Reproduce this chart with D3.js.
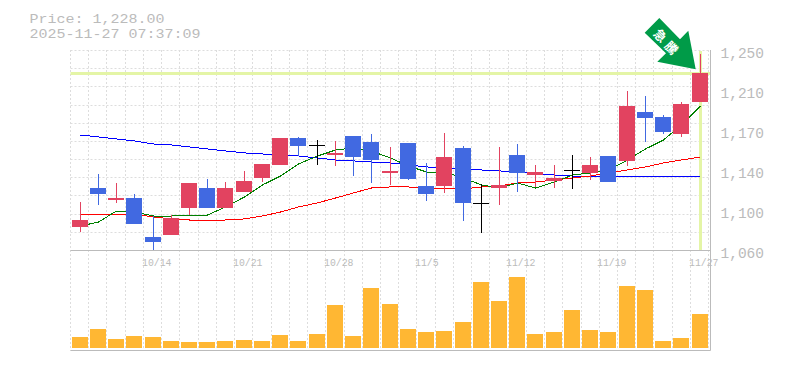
<!DOCTYPE html>
<html>
<head>
<meta charset="utf-8">
<script src="https://cdn.jsdelivr.net/npm/d3@7"></script>
<style>
    body {margin:0; background:#fff;}
    svg {display:block;}
    text {font-family:'Liberation Mono', monospace; fill:#bbb;}
</style>
</head>
<body>
<div id="chart"></div>
<script>
// chart data
const dates = ['10/7','10/8','10/9','10/10','10/14','10/15','10/16','10/17','10/20','10/21','10/22','10/23','10/24','10/27','10/28','10/29','10/30','10/31','11/4','11/5','11/6','11/7','11/10','11/11','11/12','11/13','11/14','11/17','11/18','11/19','11/20','11/21','11/25','11/26','11/27'];
const dateLabels = ['10/14','10/21','10/28','11/5','11/12','11/19','11/27'];
const open = [1082,1119,1107.5,1109.5,1072,1074,1100,1119,1100,1115,1128.5,1141,1166.5,1159.5,1150,1168.5,1162.5,1133,1161.5,1121,1121,1157,1104.5,1119,1150,1131,1125.5,1135.5,1133,1149.5,1144.5,1191,1186.5,1170,1200.5];
const close = [1088.5,1113,1109.5,1085,1067,1090.5,1124,1100,1119,1125.5,1141.5,1166.5,1159,1159.5,1152,1148.5,1145.5,1135,1127.5,1113,1148.5,1104.5,1104.5,1122,1133,1134,1128.5,1135.5,1141,1124.5,1197,1185.5,1172,1198.5,1228];
const high = [1105.5,1132,1124,1113,1092,1093,1124,1127.5,1124.5,1135,1141.5,1166.5,1167.5,1164.5,1163.5,1168.5,1170,1158,1161.5,1142.5,1171,1159,1122.5,1158,1160.5,1141,1141,1150,1148.5,1149.5,1211,1206.5,1188,1200.5,1246];
const low = [1077,1103,1104.5,1085,1060,1074,1093,1100,1100,1115,1124.5,1141,1149.5,1141,1140,1130.5,1123.5,1122,1126.5,1106.5,1114,1087.5,1076,1103,1115,1120,1119,1118,1126.5,1124.5,1140,1162.5,1170,1167.5,1200.5];
const volume = [11,19,9,12,11,7,6,6,7,8,7,13,7,14,43,12,60,44,19,16,17,26,66,47,71,14,16,38,18,16,62,58,7,10,34];
const maShort = [1082.8,1086.6,1097,1096.1,1092.3,1092.3,1093.2,1093.2,1100.9,1110.4,1121.8,1130.3,1141.7,1149.3,1155,1156.9,1154,1147.4,1139.8,1134.1,1134.1,1128.4,1121.8,1118.9,1123.7,1118.9,1124.6,1131.2,1133.2,1136,1145.5,1156,1164.5,1178.8,1196.8];
const maMid = [1094.2,1094.2,1094.2,1094.2,1091.4,1089.5,1088.5,1088.5,1088.5,1089.5,1092.3,1096.1,1100.9,1104.7,1109.4,1114.2,1118.9,1119.9,1119.9,1118,1118,1118,1119.9,1120.8,1123.7,1124.6,1126.5,1128.4,1130.3,1133.2,1136,1138.9,1142.7,1145.5,1148.4];
const maLong = [1169.2,1167.4,1165.5,1163.6,1160.7,1159.8,1157.9,1156,1154.1,1152.2,1151.2,1150.2,1149.3,1147.4,1145.5,1144.6,1143.6,1142.7,1140.8,1138.9,1137.9,1137,1136,1135.1,1134.1,1132.2,1131.2,1130.3,1130.3,1129.4,1129.4,1129.4,1129.4,1129.4,1130.3];
const priceTicks = [1250,1212,1174,1136,1098,1060];
const lastPrice = 1228;
const titleLines = ['Price: 1,228.00','2025-11-27 07:37:09'];
const arrowText = ['急','騰'];

const width = 785, height = 370;
const plot = {l:70.5, r:708.7, t:50, b:250, volB:348, axisR:710.5, axisB:350.5};

const svg = d3.select('#chart').append('svg')
    .attr('width', width)
    .attr('height', height);

// setting up scales
const x = d3.scaleBand()
    .domain(dates)
    .range([plot.l, plot.r])
    .paddingInner(0.123)
    .paddingOuter(0.0615);
const y = d3.scaleLinear().domain([1060,1250]).range([plot.b, plot.t]);
const yVol = d3.scaleLinear().domain([0,100]).range([plot.volB, plot.volB-100]);
const cx = d => Math.round(x(d)+x.bandwidth()/2)+0.5;
const crisp = v => Math.round(v)+0.5;

// grid
const gridG = svg.append('g').attr('stroke','#ddd').attr('stroke-dasharray','2,2');
gridG.selectAll('.grid-v')
    .data(d3.range(36))
    .enter().append('line')
    .attr('class','grid-v')
    .attr('x1', i => crisp(plot.l-0.5 + i*x.step()))
    .attr('x2', i => crisp(plot.l-0.5 + i*x.step()))
    .attr('y1', plot.t)
    .attr('y2', plot.axisB);
gridG.selectAll('.grid-h')
    .data(d3.range(12))
    .enter().append('line')
    .attr('class','grid-h')
    .attr('x1', plot.l)
    .attr('x2', plot.axisR)
    .attr('y1', i => crisp(plot.t + i*200/11))
    .attr('y2', i => crisp(plot.t + i*200/11));

// current price markers
svg.append('line')
    .attr('x1', plot.l).attr('x2', plot.axisR)
    .attr('y1', Math.round(y(lastPrice))+0.5).attr('y2', Math.round(y(lastPrice))+0.5)
    .attr('stroke','#e4f5a6').attr('stroke-width',3);
svg.append('line')
    .attr('x1', cx(dates[34])).attr('x2', cx(dates[34]))
    .attr('y1', plot.t+1).attr('y2', plot.b)
    .attr('stroke','#e4f5a6').attr('stroke-width',3);

// axis frame
const frame = svg.append('g').attr('stroke','#bbb').attr('fill','none');
frame.append('path').attr('d', `M${plot.l},${plot.b+0.5}H${plot.axisR}`);
frame.append('path').attr('d', `M${plot.axisR},${plot.t}V${plot.axisB}H${plot.l}`);

// moving averages
const line = d3.line().x((d,i) => cx(dates[i])).y(d => y(d));
svg.selectAll('.ma')
    .data([{v:maLong,c:'#0000ff'},{v:maMid,c:'#ff0000'},{v:maShort,c:'#008000'}])
    .enter().append('path')
    .attr('class','ma')
    .attr('d', d => line(d.v))
    .attr('fill','none')
    .attr('stroke', d => d.c)
    .attr('stroke-width',1)
    .attr('shape-rendering','crispEdges');

// candles
const candleColor = i => close[i] > open[i] ? '#e24360' : close[i] < open[i] ? '#4169e1' : '#000';
const candles = svg.selectAll('.candle')
    .data(dates)
    .enter().append('g')
    .attr('class','candle');
candles.append('line')
    .attr('x1', d => cx(d)).attr('x2', d => cx(d))
    .attr('y1', (d,i) => Math.round(y(high[i])))
    .attr('y2', (d,i) => Math.round(y(low[i])))
    .attr('stroke', (d,i) => candleColor(i));
candles.append('rect')
    .attr('x', d => cx(d)-8.5)
    .attr('width', 16)
    .attr('y', (d,i) => open[i]===close[i] ? Math.floor(y(open[i])) : Math.round(y(Math.max(open[i],close[i]))))
    .attr('height', (d,i) => open[i]===close[i] ? 1 : Math.round(Math.abs(y(open[i])-y(close[i]))))
    .attr('fill', (d,i) => candleColor(i));

// volume bars
svg.selectAll('.vol')
    .data(volume)
    .enter().append('rect')
    .attr('class','vol')
    .attr('x', (d,i) => cx(dates[i])-8.5)
    .attr('width', 16)
    .attr('y', d => yVol(d))
    .attr('height', d => yVol(0)-yVol(d))
    .attr('fill','#ffb733');

// price axis
const yAxis = d3.axisRight(y)
    .tickValues(priceTicks)
    .tickSize(0)
    .tickPadding(0)
    .tickFormat(d => d3.format(',')(Math.round(d/10)*10));
svg.append('g')
    .attr('transform','translate(720.5,3)')
    .call(yAxis)
    .call(g => g.select('.domain').remove())
    .call(g => g.selectAll('text')
        .attr('font-size',14)
        .attr('textLength',43.5)
        .attr('lengthAdjust','spacingAndGlyphs')
        .style('fill','#bbb')
        .style('font-family',"'Liberation Mono', monospace"));

// date labels
svg.selectAll('.date-label')
    .data(dateLabels)
    .enter().append('text')
    .attr('class','date-label')
    .attr('x', d => cx(d)-11.5)
    .attr('y', 266)
    .attr('font-size',11.5)
    .attr('textLength', d => d.length*5.9)
    .attr('lengthAdjust','spacingAndGlyphs')
    .text(d => d);

// title
svg.selectAll('.title')
    .data(titleLines)
    .enter().append('text')
    .attr('class','title')
    .attr('x', 29.5)
    .attr('y', (d,i) => 23+i*15)
    .attr('font-size',13)
    .attr('textLength', d => d.length*9)
    .attr('lengthAdjust','spacingAndGlyphs')
    .text(d => d);

// green arrow annotation
const arrow = svg.append('g');
arrow.append('path')
    .attr('d','M659.3,18L644.7,32.7L666,53.3L657.3,61.7L695.7,69.3L688.3,30.7L680,39.3Z')
    .attr('fill','#009b48');
arrow.selectAll('text')
    .data(arrowText)
    .enter().append('text')
    .attr('transform',(d,i) => `translate(${660.7+i*11.3},${35+i*12.3}) rotate(45)`)
    .attr('text-anchor','middle')
    .attr('dominant-baseline','central')
    .attr('font-size',12.5)
    .attr('font-weight','bold')
    .style('font-family',"'Noto Sans CJK JP'")
    .style('fill','#fff')
    .text(d => d);
</script>
</body>
</html>
